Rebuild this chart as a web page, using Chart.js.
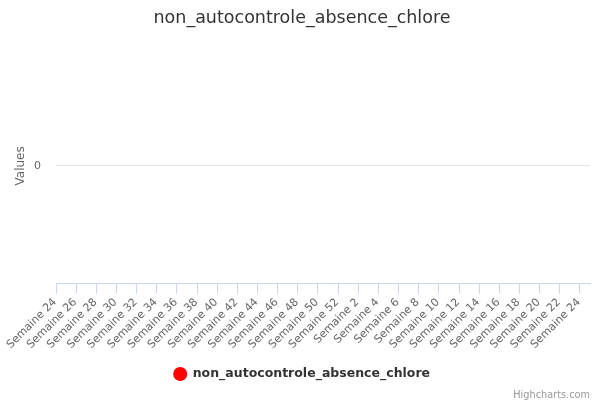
<!DOCTYPE html>
<html>
<head>
<meta charset="utf-8">
<script src="https://cdn.jsdelivr.net/npm/chart.js@4/dist/chart.umd.min.js"></script>
<style>
html,body{margin:0;padding:0;background:#fff;}
#wrap{width:600px;height:400px;position:relative;}
</style>
</head>
<body>
<div id="wrap"><canvas id="c" width="600" height="400"></canvas></div>
<script>
const chartTitle = "non_autocontrole_absence_chlore";
const categories = ["Semaine 24","Semaine 25","Semaine 26","Semaine 27","Semaine 28","Semaine 29","Semaine 30","Semaine 31","Semaine 32","Semaine 33","Semaine 34","Semaine 35","Semaine 36","Semaine 37","Semaine 38","Semaine 39","Semaine 40","Semaine 41","Semaine 42","Semaine 43","Semaine 44","Semaine 45","Semaine 46","Semaine 47","Semaine 48","Semaine 49","Semaine 50","Semaine 51","Semaine 52","Semaine 1","Semaine 2","Semaine 3","Semaine 4","Semaine 5","Semaine 6","Semaine 7","Semaine 8","Semaine 9","Semaine 10","Semaine 11","Semaine 12","Semaine 13","Semaine 14","Semaine 15","Semaine 16","Semaine 17","Semaine 18","Semaine 19","Semaine 20","Semaine 21","Semaine 22","Semaine 23","Semaine 24"];
const seriesName = "non_autocontrole_absence_chlore";
const seriesValues = [null,null,null,null,null,null,null,null,null,null,null,null,null,null,null,null,null,null,null,null,null,null,null,null,null,null,null,null,null,null,null,null,null,null,null,null,null,null,null,null,null,null,null,null,null,null,null,null,null,null,null,null,null];
const yTickValues = [0];
const yAxisTitle = "Values";
const creditText = "Highcharts.com";

const FONT = "'DejaVu Sans', 'Lucida Grande', Arial, sans-serif";

new Chart(document.getElementById('c'), {
  type: 'line',
  data: {
    labels: categories,
    datasets: [{
      label: seriesName,
      data: seriesValues,
      borderColor: '#ff0000',
      backgroundColor: '#ff0000',
      pointStyle: 'circle',
      pointRadius: 4,
      borderWidth: 2
    }]
  },
  options: {
    responsive: false,
    animation: false,
    layout: { padding: { left: 14, right: 10, top: 0, bottom: 0 } },
    plugins: {
      title: {
        display: true,
        text: chartTitle,
        color: '#333333',
        font: { family: FONT, size: 17.5, weight: 'normal' },
        padding: { top: 8, bottom: 19 }
      },
      subtitle: {
        display: true,
        text: creditText,
        position: 'bottom',
        align: 'end',
        color: '#999999',
        font: { family: FONT, size: 9.75, weight: 'normal', lineHeight: 1 },
        padding: { top: 0, bottom: 0 }
      },
      legend: {
        position: 'bottom',
        labels: {
          usePointStyle: true,
          pointStyle: 'circle',
          boxWidth: 15,
          boxHeight: 8.5,
          color: '#333333',
          font: { family: FONT, size: 12.5, weight: 'bold' },
          padding: 8
        }
      },
      tooltip: { enabled: false }
    },
    scales: {
      x: {
        type: 'category',
        offset: true,
        grid: {
          offset: true,
          drawOnChartArea: false,
          drawTicks: true,
          tickLength: 10,
          color: (ctx) => (ctx.index % 2 === 0 ? '#ccd6eb' : 'rgba(0,0,0,0)'),
          lineWidth: 1
        },
        border: { display: true, color: '#ccd6eb', width: 1 },
        ticks: {
          autoSkip: false,
          maxRotation: 45,
          minRotation: 45,
          color: '#666666',
          font: { family: FONT, size: 11 },
          padding: 2,
          labelOffset: -6,
          callback: function(v, i) { return i % 2 === 0 ? this.getLabelForValue(v) : ''; }
        },
        afterFit: (s) => { s.height = 76; }
      },
      y: {
        min: -1,
        max: 1,
        afterBuildTicks: (s) => { s.ticks = yTickValues.map(v => ({ value: v })); },
        grid: { color: '#e6e6e6', drawTicks: false, lineWidth: 1 },
        border: { display: false },
        ticks: {
          color: '#666666',
          font: { family: FONT, size: 11 },
          padding: 15
        },
        title: {
          display: true,
          text: yAxisTitle,
          color: '#666666',
          font: { family: FONT, size: 12 },
          padding: 0
        },
        afterFit: (s) => { s.width = 42; }
      }
    }
  }
});
</script>
</body>
</html>
